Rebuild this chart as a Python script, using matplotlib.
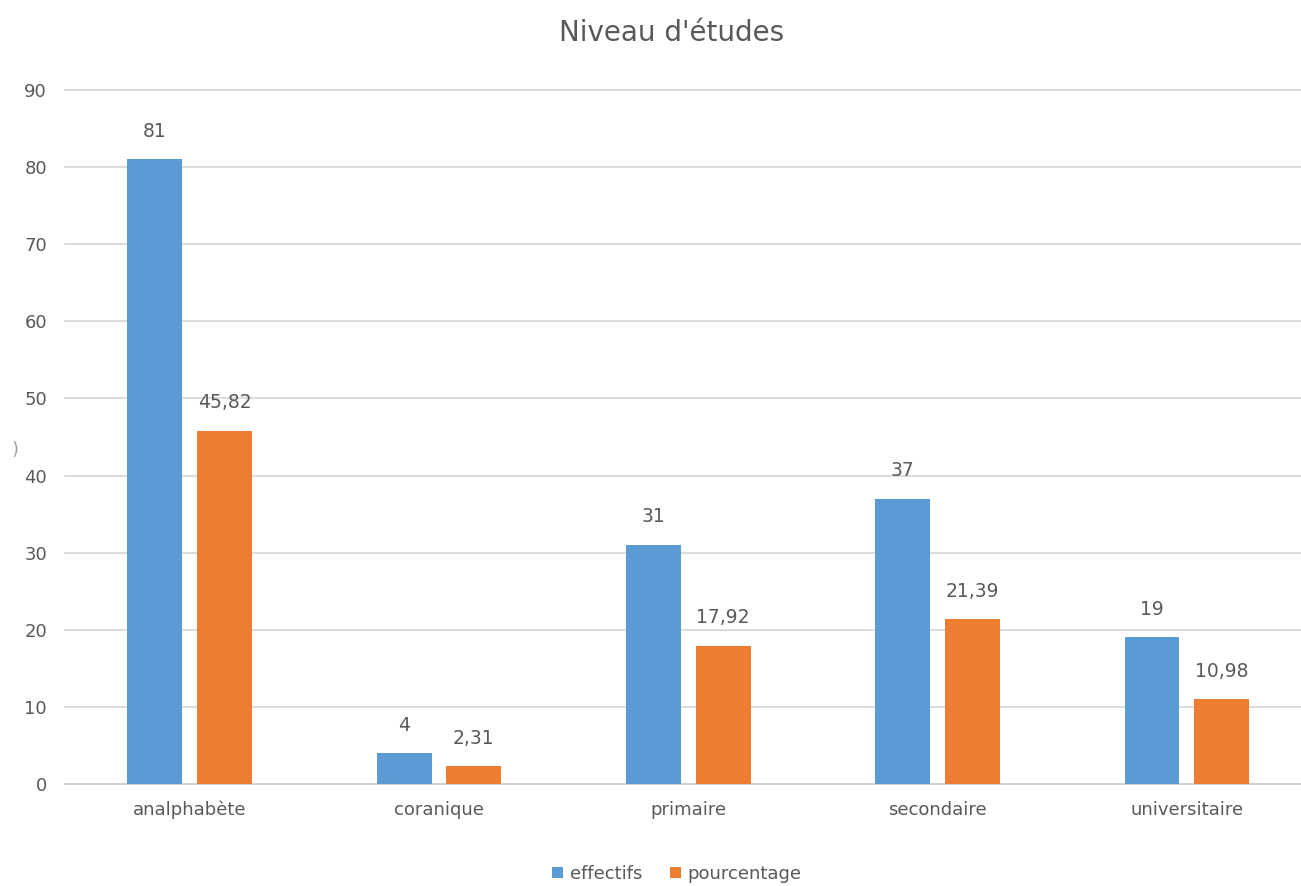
import matplotlib.pyplot as plt
import numpy as np

plt.rcParams['font.family'] = ['Liberation Sans Narrow', 'DejaVu Sans']

categories = ['analphabète', 'coranique', 'primaire', 'secondaire', 'universitaire']
effectifs = [81, 4, 31, 37, 19]
pourcentage = [45.82, 2.31, 17.92, 21.39, 10.98]
yticks = [0, 10, 20, 30, 40, 50, 60, 70, 80, 90]

blue = '#5B9BD5'
orange = '#ED7D31'
txt = '#595959'

fig = plt.figure(figsize=(13.01, 8.86), dpi=100)
ax = fig.add_axes([65 / 1301, 1 - 784 / 886, 1246.6 / 1301, 694 / 886])

x = np.arange(len(categories))
w = 0.22
b1 = ax.bar(x - 0.14, effectifs, w, color=blue, label='effectifs', zorder=3)
b2 = ax.bar(x + 0.14, pourcentage, w, color=orange, label='pourcentage', zorder=3)

# data labels with comma decimals
def fmt(v):
    return ('%g' % v).replace('.', ',')

for bars, vals in ((b1, effectifs), (b2, pourcentage)):
    for r, v in zip(bars, vals):
        ax.text(r.get_x() + r.get_width() / 2, v + 2.4, fmt(v),
                ha='center', va='bottom', fontsize=13.5, color=txt)

ax.set_xlim(-0.5, 4.5)
ax.set_ylim(0, 90)
ax.set_yticks(yticks)
ax.set_xticks(x)
ax.set_xticklabels(categories)
ax.yaxis.grid(True, color='#D9D9D9', linewidth=1.3, zorder=0)
for gl in ax.get_ygridlines():
    gl.set_clip_on(False)
ax.tick_params(axis='both', length=0, labelsize=13, labelcolor=txt)
ax.tick_params(axis='y', pad=13)
ax.tick_params(axis='x', pad=12)
for s in ('top', 'right', 'left'):
    ax.spines[s].set_visible(False)
ax.spines['bottom'].set_color('#D0D0D0')
ax.spines['bottom'].set_linewidth(1.3)

fig.text(672 / 1301, 1 - 33 / 886, "Niveau d'études", ha='center', va='center',
         fontsize=20, color=txt)
fig.text(15 / 1301, 1 - 450 / 886, ')', ha='center', va='center',
         fontsize=13, color='#A0A0A0')

fig.legend(handles=[b1, b2], loc='center', bbox_to_anchor=(677 / 1301, 1 - 874 / 886),
           ncol=2, frameon=False, fontsize=13, handlelength=0.6, handleheight=0.6,
           columnspacing=1.5, handletextpad=0.4, labelcolor=txt)

fig.savefig('out.png', dpi=100)
